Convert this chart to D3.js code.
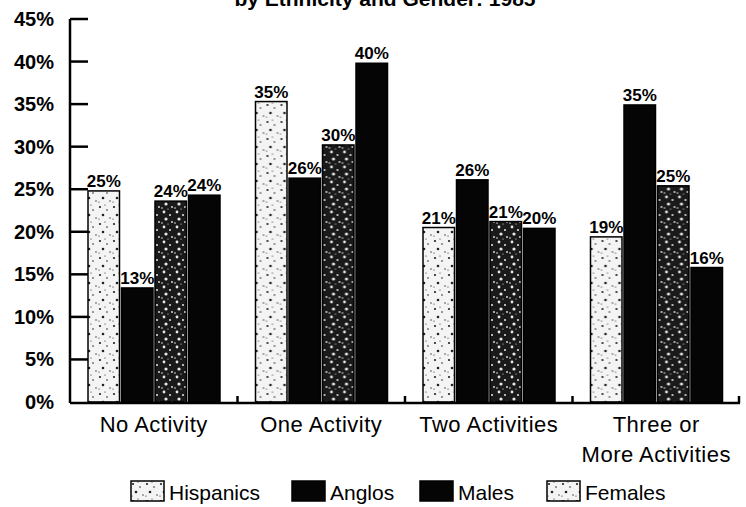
<!DOCTYPE html>
<html>
<head>
<meta charset="utf-8">
<script src="https://d3js.org/d3.v7.min.js"></script>
<style>
  body { margin: 0; background: #fff; }
  text { font-family: "Liberation Sans", Arial, Helvetica, sans-serif; fill: #000; }
</style>
</head>
<body>
<script>
// chart data
const categories = ["No Activity", "One Activity", "Two Activities", "Three or\nMore Activities"];
const series = ["Hispanics", "Anglos", "Males", "Females"];
const hispanics = [24.8, 35.3, 20.5, 19.4];
const anglos    = [13.4, 26.3, 26.1, 34.9];
const males     = [23.6, 30.2, 21.2, 25.4];
const females   = [24.3, 39.8, 20.4, 15.8];
const yTicks = [0, 5, 10, 15, 20, 25, 30, 35, 40, 45];

const values = [hispanics, anglos, males, females];

const width = 746, height = 507;
const svg = d3.select("body").append("svg")
    .attr("width", width)
    .attr("height", height);

// patterns to imitate the scanned textures
const defs = svg.append("defs");
let light = defs.append("pattern").attr("id", "light")
    .attr("width", 14).attr("height", 17).attr("patternUnits", "userSpaceOnUse");
light.append("rect").attr("width", 14).attr("height", 17).attr("fill", "#f4f4f4");
[[2, 3, 1.1], [9, 6, 0.8], [5, 11, 1.3], [12, 14, 0.7], [1, 15, 0.6], [7, 1, 0.6]].forEach(p => {
    light.append("circle").attr("cx", p[0]).attr("cy", p[1]).attr("r", p[2]).attr("fill", "#222");
});
let dark = defs.append("pattern").attr("id", "dark")
    .attr("width", 13).attr("height", 15).attr("patternUnits", "userSpaceOnUse");
dark.append("rect").attr("width", 13).attr("height", 15).attr("fill", "#1a1a1a");
[[3, 2, 1.4], [9, 5, 1.0], [5, 9, 1.6], [11, 12, 0.9], [1, 13, 0.8], [7, 14, 0.6]].forEach(p => {
    dark.append("circle").attr("cx", p[0]).attr("cy", p[1]).attr("r", p[2]).attr("fill", "#e8e8e8");
});

const barFill = ["url(#light)", "#050505", "url(#dark)", "#050505"];
const legendFill = ["url(#light)", "#050505", "#050505", "url(#light)"];

const y = d3.scaleLinear().domain([0, 45]).range([402, 19]);
const x0 = d3.scaleBand().domain(categories).range([70, 740]);
const x1 = d3.scaleBand().domain(series).range([18, 150]).paddingInner(0.06);

// title (cut off at top of the scan)
svg.append("text")
    .attr("x", 385).attr("y", 6)
    .attr("text-anchor", "middle")
    .attr("font-size", 21).attr("font-weight", "bold")
    .text("by Ethnicity and Gender: 1985");

// y axis
svg.append("line")
    .attr("x1", 70).attr("x2", 70)
    .attr("y1", y(45)).attr("y2", y(0) + 1)
    .attr("stroke", "#000").attr("stroke-width", 2.5);
svg.append("g").selectAll("line")
    .data(yTicks.filter(d => d > 0))
    .join("line")
    .attr("x1", 70).attr("x2", 88)
    .attr("y1", d => y(d)).attr("y2", d => y(d))
    .attr("stroke", "#000").attr("stroke-width", 2.5);
svg.append("g").selectAll("text")
    .data(yTicks)
    .join("text")
    .attr("x", 54).attr("y", d => y(d) + 7)
    .attr("text-anchor", "end")
    .attr("font-size", 20).attr("font-weight", "bold")
    .text(d => d + "%");

// bars
const group = svg.append("g").selectAll("g")
    .data(categories)
    .join("g")
    .attr("transform", d => `translate(${x0(d)},0)`);

group.selectAll("rect")
    .data((c, i) => series.map((s, j) => ({ s: s, j: j, v: values[j][i] })))
    .join("rect")
    .attr("x", d => x1(d.s))
    .attr("y", d => y(d.v))
    .attr("width", x1.bandwidth())
    .attr("height", d => y(0) - y(d.v))
    .attr("fill", d => barFill[d.j])
    .attr("stroke", "#000")
    .attr("stroke-width", 1.5);

group.selectAll("text.val")
    .data((c, i) => series.map((s, j) => ({ s: s, j: j, v: values[j][i] })))
    .join("text")
    .attr("class", "val")
    .attr("x", d => x1(d.s) + x1.bandwidth() / 2)
    .attr("y", d => y(d.v) - 4)
    .attr("text-anchor", "middle")
    .attr("font-size", 17).attr("font-weight", "bold")
    .text(d => Math.round(d.v) + "%");

// x axis baseline and group ticks
svg.append("line")
    .attr("x1", 70).attr("x2", 740)
    .attr("y1", y(0) + 1).attr("y2", y(0) + 1)
    .attr("stroke", "#000").attr("stroke-width", 2.5);
svg.append("g").selectAll("line")
    .data(categories.slice(1).concat(["end"]))
    .join("line")
    .attr("x1", d => d === "end" ? 739 : x0(d))
    .attr("x2", d => d === "end" ? 739 : x0(d))
    .attr("y1", y(0) - 6).attr("y2", y(0) + 1)
    .attr("stroke", "#000").attr("stroke-width", 2.5);

// category labels
svg.append("g").selectAll("text")
    .data(categories)
    .join("text")
    .attr("x", d => x0(d) + x0.bandwidth() / 2)
    .attr("y", 432)
    .attr("text-anchor", "middle")
    .attr("font-size", 22)
    .attr("letter-spacing", 0.5)
    .each(function(d) {
        d.split("\n").forEach((line, k) => {
            d3.select(this).append("tspan")
                .attr("x", x0(d) + x0.bandwidth() / 2)
                .attr("dy", k === 0 ? 0 : 30)
                .text(line);
        });
    });

// legend
const legendX = [131, 292, 420, 547];
const legend = svg.append("g").selectAll("g")
    .data(series)
    .join("g")
    .attr("transform", (d, i) => `translate(${legendX[i]},481)`);
legend.append("rect")
    .attr("width", 33).attr("height", 20)
    .attr("fill", (d, i) => legendFill[i])
    .attr("stroke", "#000").attr("stroke-width", 1.5);
legend.append("text")
    .attr("x", 38).attr("y", 19)
    .attr("font-size", 21)
    .text(d => d);
</script>
</body>
</html>
